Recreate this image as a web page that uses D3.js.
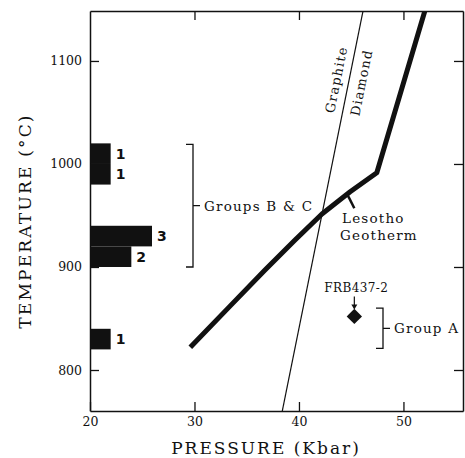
<!DOCTYPE html>
<html>
<head>
<meta charset="utf-8">
<script src="https://cdn.jsdelivr.net/npm/d3@7"></script>
<style>
  body { margin: 0; background: #fff; }
  text { font-family: "DejaVu Serif", serif; fill: #111; }
</style>
</head>
<body>
<svg id="chart" width="465" height="458"></svg>
<script>
// datos
const xTicks = [20, 30, 40, 50];
const yTicks = [800, 900, 1000, 1100];

// histograma de temperaturas (limites de cada barra y cantidad de muestras)
const binLow = [820, 900, 920, 980, 1000];
const binHigh = [840, 920, 940, 1000, 1020];
const binCount = [1, 2, 3, 1, 1];

// geoterma de Lesotho (P en kbar, T en C)
const geoP = [29.6, 33.4, 36.75, 39.6, 42.2, 44.9, 47.45, 52.15];
const geoT = [822, 862, 897, 926, 951.5, 973, 991.5, 1152];

// limite grafito / diamante
const gdP = [38.3, 46.2];
const gdT = [755, 1152];

// muestra FRB437-2
const sampleP = [45.3];
const sampleT = [852];

const svg = d3.select('#chart');

// area del grafico
const plot = { left: 90, right: 463, top: 11, bottom: 411 };

const x = d3.scaleLinear().domain([20, 55.7]).range([plot.left, plot.right]);
const y = d3.scaleLinear().domain([760.2, 1148.5]).range([plot.bottom, plot.top]);
const w = d3.scaleLinear().domain([0, 3]).range([0, 62]);

// clip para las lineas
svg.append('clipPath').attr('id', 'clip')
  .append('rect').attr('x', plot.left).attr('y', plot.top)
  .attr('width', plot.right - plot.left).attr('height', plot.bottom - plot.top);

// ejes con ticks hacia dentro
const axStyle = (g) => {
  g.select('.domain').attr('stroke', '#111').attr('stroke-width', 1.5);
  g.selectAll('.tick line').attr('stroke', '#111').attr('stroke-width', 1.3);
  g.selectAll('.tick text').style('font-size', '12.5px').attr('fill', '#111');
};

svg.append('g').attr('transform', `translate(0,${plot.bottom})`)
  .call(d3.axisBottom(x).tickValues(xTicks).tickSizeInner(-9).tickSizeOuter(0).tickPadding(6))
  .call(axStyle);

svg.append('g').attr('transform', `translate(0,${plot.top})`)
  .call(d3.axisTop(x).tickValues(xTicks.slice(1)).tickSizeInner(-9).tickSizeOuter(0).tickFormat(''))
  .call(axStyle);

svg.append('g').attr('transform', `translate(${plot.left},0)`)
  .call(d3.axisLeft(y).tickValues(yTicks).tickFormat(d3.format('d')).tickSizeInner(-9).tickSizeOuter(0).tickPadding(8))
  .call(axStyle);

svg.append('g').attr('transform', `translate(${plot.right},0)`)
  .call(d3.axisRight(y).tickValues(yTicks).tickSizeInner(-9).tickSizeOuter(0).tickFormat(''))
  .call(axStyle);

// histograma
const bins = binLow.map((d, i) => ({ lo: d, hi: binHigh[i], n: binCount[i] }));

svg.selectAll('.bar').data(bins).enter()
  .append('rect')
  .attr('class', 'bar')
  .attr('x', plot.left)
  .attr('y', (d) => y(d.hi))
  .attr('width', (d) => w(d.n))
  .attr('height', (d) => y(d.lo) - y(d.hi))
  .attr('fill', '#111');

svg.selectAll('.count').data(bins).enter()
  .append('text')
  .attr('class', 'count')
  .attr('x', (d) => plot.left + w(d.n) + 5)
  .attr('y', (d) => y((d.lo + d.hi) / 2) + 5)
  .style('font-family', '"DejaVu Sans", sans-serif')
  .style('font-weight', 'bold')
  .style('font-size', '14px')
  .text((d) => d.n);

// linea grafito-diamante
const line = d3.line().x((d) => x(d[0])).y((d) => y(d[1]));

svg.append('path')
  .datum(gdP.map((d, i) => [d, gdT[i]]))
  .attr('clip-path', 'url(#clip)')
  .attr('d', line)
  .attr('fill', 'none')
  .attr('stroke', '#111')
  .attr('stroke-width', 1.2);

// geoterma
svg.append('path')
  .datum(geoP.map((d, i) => [d, geoT[i]]))
  .attr('clip-path', 'url(#clip)')
  .attr('d', line)
  .attr('fill', 'none')
  .attr('stroke', '#111')
  .attr('stroke-width', 5)
  .attr('stroke-linejoin', 'round');

// etiquetas grafito / diamante, giradas segun la linea
const ang = Math.atan2(y(gdT[1]) - y(gdT[0]), x(gdP[1]) - x(gdP[0])) * 180 / Math.PI;
const labelStyle = (t, size) => t.style('font-size', size).style('letter-spacing', '1.2px');

svg.append('text')
  .attr('transform', `translate(${x(44.0)},${y(1081)}) rotate(${ang})`)
  .attr('text-anchor', 'middle')
  .call(labelStyle, '13px')
  .text('Graphite');
svg.append('text')
  .attr('transform', `translate(${x(46.4)},${y(1078)}) rotate(${ang})`)
  .attr('text-anchor', 'middle')
  .call(labelStyle, '13px')
  .text('Diamond');

// llaves de los grupos
const bracket = (xb, t0, t1, label) => {
  const g = svg.append('g');
  g.append('path')
    .attr('d', `M${xb - 7},${y(t1)}H${xb}V${y(t0)}H${xb - 7}M${xb},${(y(t0) + y(t1)) / 2}H${xb + 7}`)
    .attr('fill', 'none').attr('stroke', '#111').attr('stroke-width', 1.3);
  g.append('text')
    .attr('x', xb + 11)
    .attr('y', (y(t0) + y(t1)) / 2 + 5)
    .call(labelStyle, '13.5px')
    .text(label);
};
bracket(193, 900, 1019, 'Groups B & C');
bracket(383, 821, 860, 'Group A');

// rotulo de la geoterma
svg.append('path')
  .attr('d', `M${x(44.6)},${y(971)}L${x(45.3)},${y(957)}`)
  .attr('stroke', '#111').attr('stroke-width', 2.5);
svg.append('text').attr('x', 342).attr('y', 223).call(labelStyle, '13.5px').text('Lesotho');
svg.append('text').attr('x', 340).attr('y', 240).call(labelStyle, '13.5px').text('Geotherm');

// muestra FRB437-2
svg.selectAll('.sample').data(sampleP).enter()
  .append('path')
  .attr('class', 'sample')
  .attr('transform', (d, i) => `translate(${x(d)},${y(sampleT[i])})`)
  .attr('d', d3.symbol(d3.symbolDiamond2, 150))
  .attr('fill', '#111');

svg.append('text')
  .attr('x', x(sampleP[0]) + 2).attr('y', y(sampleT[0]) - 24)
  .attr('text-anchor', 'middle')
  .style('font-size', '12px')
  .style('letter-spacing', '0.4px')
  .text('FRB437-2');
svg.append('path')
  .attr('d', `M${x(sampleP[0])},${y(sampleT[0]) - 20}V${y(sampleT[0]) - 8}`)
  .attr('stroke', '#111').attr('stroke-width', 1.2);
svg.append('path')
  .attr('d', `M${x(sampleP[0]) - 3},${y(sampleT[0]) - 12}L${x(sampleP[0])},${y(sampleT[0]) - 7}L${x(sampleP[0]) + 3},${y(sampleT[0]) - 12}Z`)
  .attr('fill', '#111');

// titulos de los ejes
svg.append('text')
  .attr('x', 266).attr('y', 454)
  .attr('text-anchor', 'middle')
  .style('font-size', '17px')
  .style('letter-spacing', '2px')
  .text('PRESSURE (Kbar)');

svg.append('text')
  .attr('transform', `translate(31,221) rotate(-90)`)
  .attr('text-anchor', 'middle')
  .style('font-size', '17px')
  .style('letter-spacing', '2.2px')
  .text('TEMPERATURE (°C)');
</script>
</body>
</html>
